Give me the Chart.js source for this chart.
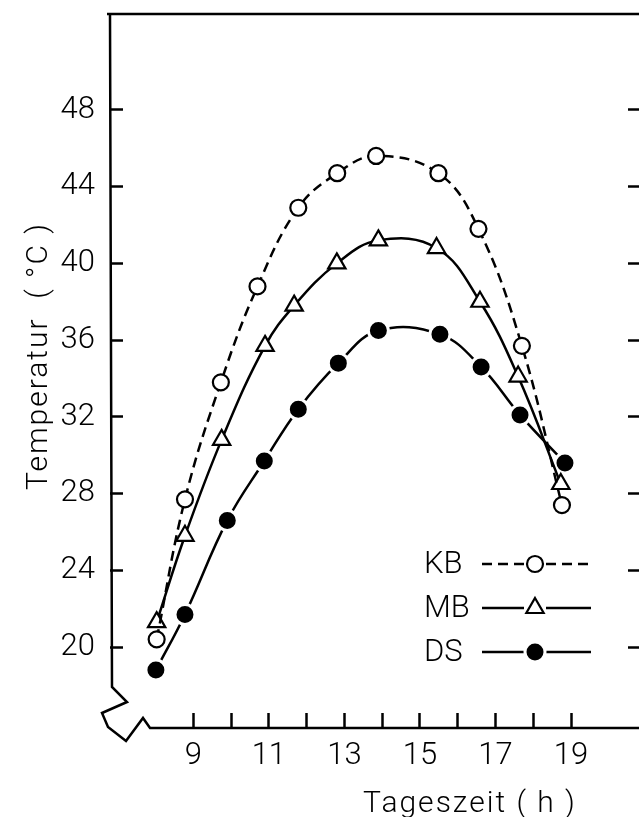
<!DOCTYPE html>
<html>
<head>
<meta charset="utf-8">
<script src="https://cdn.jsdelivr.net/npm/chart.js@4.4.1/dist/chart.umd.min.js"></script>
<style>
  html, body { margin: 0; padding: 0; background: #fff; overflow: hidden; }
  #wrap { position: relative; width: 639px; height: 817px; }
  canvas { display: block; }
</style>
</head>
<body>
<div id="wrap"><canvas id="chart" width="639" height="817"></canvas></div>
<script>
// Tageszeit (h) / Temperatur (°C) per series
const kbHours = [8.03, 8.78, 9.73, 10.70, 11.78, 12.81, 13.84, 15.49, 16.55, 17.70, 18.76];
const kbTemps = [20.4, 27.7, 33.8, 38.8, 42.9, 44.7, 45.6, 44.7, 41.8, 35.7, 27.4];
const mbHours = [8.03, 8.78, 9.75, 10.90, 11.67, 12.80, 13.90, 15.44, 16.59, 17.60, 18.73];
const mbTemps = [21.3, 25.8, 30.8, 35.7, 37.8, 40.0, 41.2, 40.8, 38.0, 34.1, 28.5];
const dsHours = [8.01, 8.78, 9.90, 10.88, 11.78, 12.84, 13.90, 15.53, 16.62, 17.65, 18.84];
const dsTemps = [18.8, 21.7, 26.6, 29.7, 32.4, 34.8, 36.5, 36.3, 34.6, 32.1, 29.6];

const seriesLabels = ['KB', 'MB', 'DS'];
const tempTicks = [20, 24, 28, 32, 36, 40, 44, 48];
const hourTicks = [9, 10, 11, 12, 13, 14, 15, 16, 17, 18, 19];

const FONT = 'Roboto, "DejaVu Sans", sans-serif';

const toPoints = (xs, ys) => xs.map((x, i) => ({ x: x, y: ys[i] }));

const noPadding = (scale) => {
    scale.paddingLeft = 0;
    scale.paddingRight = 0;
    scale.paddingTop = 0;
    scale.paddingBottom = 0;
};

// axis frame with the break symbol at the lower left
const framePlugin = {
    id: 'frame',
    afterDraw(chart) {
        const { ctx, chartArea: a } = chart;
        const l = a.left, b = a.bottom;
        ctx.save();
        ctx.strokeStyle = '#000';
        ctx.lineWidth = 2.5;
        ctx.lineJoin = 'miter';
        ctx.setLineDash([]);
        ctx.beginPath();
        ctx.moveTo(a.right, a.top);
        ctx.lineTo(l - 3, a.top);
        ctx.moveTo(l, a.top);
        ctx.lineTo(l + 2, b - 41);
        ctx.lineTo(l + 17, b - 26);
        ctx.lineTo(l - 8, b - 15);
        ctx.lineTo(l - 2, b - 1);
        ctx.lineTo(l + 16, b + 13);
        ctx.lineTo(l + 33, b - 10);
        ctx.lineTo(l + 40, b);
        ctx.lineTo(a.right, b);
        ctx.stroke();
        ctx.restore();
    }
};

const titlePlugin = {
    id: 'axisTitles',
    afterDraw(chart) {
        const ctx = chart.ctx;
        ctx.save();
        ctx.fillStyle = '#000';
        ctx.font = '300 30px ' + FONT;
        ctx.letterSpacing = '2px';
        ctx.textAlign = 'center';
        ctx.textBaseline = 'alphabetic';
        ctx.fillText('Tageszeit ( h )', 470, 812);
        ctx.translate(47, 356);
        ctx.rotate(-Math.PI / 2);
        ctx.fillText('Temperatur  ( °C )', 0, 0);
        ctx.restore();
    }
};

// legend: label, then line - marker - line
const keyPlugin = {
    id: 'keyBox',
    afterDraw(chart) {
        const ctx = chart.ctx;
        chart.data.datasets.forEach((ds, i) => {
            const y = 564 + i * 44;
            ctx.save();
            ctx.fillStyle = '#000';
            ctx.font = '300 31px ' + FONT;
            ctx.textAlign = 'left';
            ctx.textBaseline = 'middle';
            ctx.fillText(ds.label, 424, y + 1);
            ctx.strokeStyle = ds.borderColor;
            ctx.lineWidth = ds.borderWidth;
            ctx.setLineDash(ds.borderDash || []);
            ctx.beginPath();
            ctx.moveTo(482, y);
            ctx.lineTo(524, y);
            ctx.moveTo(546, y);
            ctx.lineTo(591, y);
            ctx.stroke();
            ctx.setLineDash([]);
            ctx.fillStyle = ds.pointBackgroundColor;
            ctx.strokeStyle = ds.pointBorderColor;
            ctx.lineWidth = ds.pointBorderWidth;
            Chart.helpers.drawPoint(ctx, {
                pointStyle: ds.pointStyle,
                radius: ds.pointRadius,
                borderWidth: ds.pointBorderWidth,
                rotation: 0
            }, 535, y);
            ctx.restore();
        });
    }
};

const xMin = 6.795, xMax = 20.80;
const yMin = 15.78, yMax = 53.0;

new Chart(document.getElementById('chart'), {
    type: 'line',
    data: {
        datasets: [
            {
                label: seriesLabels[0],
                data: toPoints(kbHours, kbTemps),
                borderColor: '#000',
                borderWidth: 2.5,
                borderDash: [10, 6],
                tension: 0.4,
                pointStyle: 'circle',
                pointRadius: 8,
                pointBackgroundColor: '#fff',
                pointBorderColor: '#000',
                pointBorderWidth: 2.2,
            },
            {
                label: seriesLabels[1],
                data: toPoints(mbHours, mbTemps),
                borderColor: '#000',
                borderWidth: 2.5,
                tension: 0.4,
                pointStyle: 'triangle',
                pointRadius: 10,
                pointBackgroundColor: '#fff',
                pointBorderColor: '#000',
                pointBorderWidth: 2.2,
            },
            {
                label: seriesLabels[2],
                data: toPoints(dsHours, dsTemps),
                borderColor: '#000',
                borderWidth: 2.5,
                tension: 0.4,
                pointStyle: 'circle',
                pointRadius: 10,
                pointBackgroundColor: '#000',
                pointBorderColor: '#fff',
                pointBorderWidth: 3,
            }
        ]
    },
    options: {
        responsive: false,
        animation: false,
        events: [],
        layout: {
            autoPadding: false,
            padding: { top: 14, right: 0, bottom: 0, left: 0 }
        },
        plugins: {
            legend: { display: false },
            tooltip: { enabled: false },
            title: { display: false }
        },
        scales: {
            x: {
                type: 'linear',
                position: 'bottom',
                min: xMin,
                max: xMax,
                afterBuildTicks: (scale) => { scale.ticks = hourTicks.map(v => ({ value: v })); },
                afterFit: (scale) => { scale.height = 89; noPadding(scale); },
                border: { display: false },
                grid: {
                    drawOnChartArea: false,
                    drawTicks: true,
                    tickLength: -15,
                    tickWidth: 2.5,
                    tickColor: '#000'
                },
                ticks: {
                    color: '#000',
                    padding: 25,
                    maxRotation: 0,
                    autoSkip: false,
                    font: { family: FONT, size: 31, weight: 300 },
                    callback: (v) => (v % 2 === 1 ? String(v) : '')
                }
            },
            y: {
                type: 'linear',
                position: 'left',
                min: yMin,
                max: yMax,
                afterBuildTicks: (scale) => { scale.ticks = tempTicks.map(v => ({ value: v })); },
                afterFit: (scale) => { scale.width = 110; noPadding(scale); },
                border: { display: false },
                grid: {
                    drawOnChartArea: false,
                    drawTicks: true,
                    tickLength: -13,
                    tickWidth: 2.5,
                    tickColor: '#000'
                },
                ticks: {
                    color: '#000',
                    padding: 28,
                    font: { family: FONT, size: 31, weight: 300 },
                    callback: (v) => String(v)
                }
            },
            y2: {
                type: 'linear',
                position: { x: xMax },
                min: yMin,
                max: yMax,
                afterBuildTicks: (scale) => { scale.ticks = tempTicks.map(v => ({ value: v })); },
                afterFit: (scale) => { scale.width = 0; noPadding(scale); },
                border: { display: false },
                grid: {
                    drawOnChartArea: false,
                    drawTicks: true,
                    tickLength: 11,
                    tickWidth: 2.5,
                    tickColor: '#000'
                },
                ticks: { display: false }
            }
        }
    },
    plugins: [framePlugin, titlePlugin, keyPlugin]
});
</script>
</body>
</html>
